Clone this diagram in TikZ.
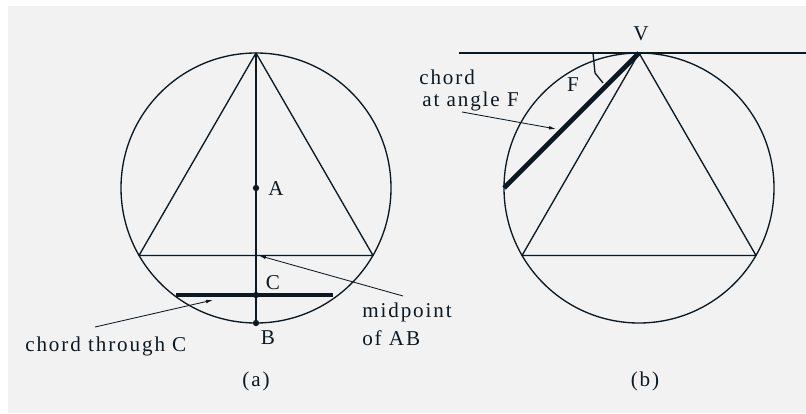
\documentclass[tikz,border=0pt]{standalone}
\usepackage{fontspec}
\setmainfont[LetterSpace=9]{Liberation Serif}
\usetikzlibrary{arrows.meta}
\definecolor{inkdark}{RGB}{12,24,34}
\definecolor{panelgray}{RGB}{242,242,242}

\begin{document}
\begin{tikzpicture}[x=0.025cm, y=-0.025cm, line join=round]
    \tikzset{
        thinline/.style={inkdark, line width=0.95pt},
        chordline/.style={inkdark, line width=3.4pt},
        pointer/.style={inkdark, line width=0.6pt, -{Latex[length=5pt,width=2.6pt]}},
        lbl/.style={font=\fontsize{15}{18}\selectfont, text=inkdark, inner sep=0pt},
        dot/.style={circle, fill=inkdark, inner sep=0pt, minimum size=4.5pt},
    }
    % Frame
    \useasboundingbox (0,0) rectangle (806,413);
    \fill[panelgray] (8,6) rectangle (806,413);

    % ---------- (a) ----------
    \draw[thinline] (256,188) circle[radius=135];
    \coordinate (ta) at (256,53);
    \coordinate (la) at (139,255.5);
    \coordinate (ra) at (373,255.5);
    \coordinate (mid) at (256,255.5);
    \draw[thinline] (ta) -- (la) -- (ra) -- cycle;

    % Points on the axis
    \node[dot] (A) at (256,188) {};
    \node[dot] (C) at (256,295) {};
    \node[dot] (B) at (256,323) {};
    \draw[thinline] (ta) -- (B.center);
    \node[lbl] (labA) at (276,189) {A};
    \node[lbl] (labC) at (273,283) {C};
    \node[lbl] (labB) at (268,338) {B};

    % Chord through C
    \coordinate (cl) at (176,295);
    \coordinate (cr) at (333,295);
    \draw[chordline] (cl) -- (cr);

    % Midpoint annotation
    \node[lbl, anchor=base west] (mp1) at (362,317) {midpoint};
    \node[lbl, anchor=base west] (mp2) at (362,345) {of AB};
    \coordinate (mpstart) at (403,296);
    \draw[pointer] (mpstart) -- ([xshift=2]mid);

    % Chord annotation
    \node[lbl, anchor=base west] (ct) at (25,351) {chord through C};
    \coordinate (ctstart) at (95,327);
    \coordinate (cttip) at (213,300);
    \draw[pointer] (ctstart) -- (cttip);

    \node[lbl] (capa) at (256,381) {(a)};

    % ---------- (b) ----------
    \draw[thinline] (639,188) circle[radius=135];
    \coordinate (V) at (639,53);
    \coordinate (lb) at (522,255.5);
    \coordinate (rb) at (756,255.5);
    \draw[thinline] (V) -- (lb) -- (rb) -- cycle;

    % Tangent at V
    \coordinate (tl) at (459,53);
    \coordinate (tr) at (806,53);
    \draw[thinline] (tl) -- (tr);
    \node[lbl] (labV) at (641,34) {V};

    % Chord at angle F
    \coordinate (fend) at (504,188);
    \draw[chordline] (V) -- (fend);
    \draw[thinline] (593,53) -- (595,73) -- (603,83);
    \node[lbl] (labF) at (573,85) {F};

    \node[lbl, anchor=base west] (ca1) at (419,85) {chord};
    \node[lbl, anchor=base west] (ca2) at (422,107) {at angle F};
    \coordinate (castart) at (462,112);
    \coordinate (catip) at (556,129);
    \draw[pointer] (castart) -- (catip);

    \node[lbl] (capb) at (645,381) {(b)};
\end{tikzpicture}
\end{document}
